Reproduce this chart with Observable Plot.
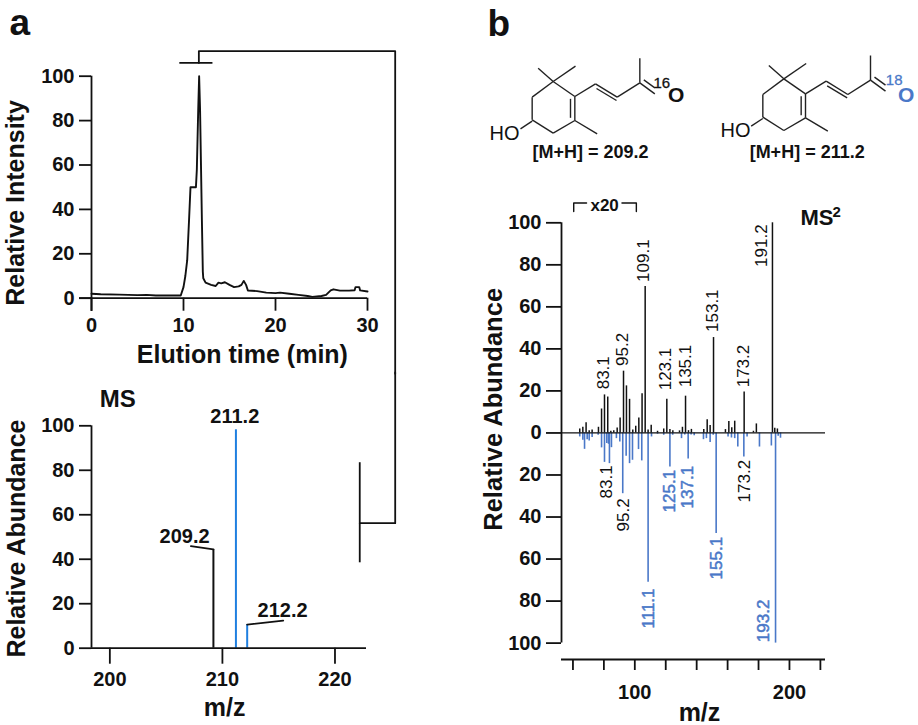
<!DOCTYPE html>
<html><head><meta charset="utf-8">
<script src="https://cdn.jsdelivr.net/npm/d3@7"></script>
<script src="https://cdn.jsdelivr.net/npm/@observablehq/plot@0.6"></script>
<style>
html,body{margin:0;padding:0;background:#fff}
#page{position:relative;width:918px;height:725px;overflow:hidden}
#page svg{position:absolute;background:transparent}
</style></head><body><div id="page"></div>
<script>
// ---------- chromatogram
const lcTime = [0,1,3,5,6,7,9.7,10,10.2,10.4,10.6,10.76,11,11.35,11.45,11.6,11.7,11.8,11.9,12,12.1,12.15,12.4,13,13.5,13.8,14.1,14.5,15,15.5,16,16.3,16.55,16.8,17,18,19,20,20.5,21.5,22.5,23.5,24,25,25.5,26,26.3,27,28,28.6,28.7,29.1,29.2,30];
const lcIntensity = [2,1.8,1.6,1.4,1.5,1.2,1.2,5,10,17,35,50,50,50,58,85,100,85,60,35,12,9,7,6,5.5,7,6.7,7.2,6,5,5.3,6,7.8,6,3.5,3.2,2.5,2.3,2.5,2,1.5,1,0.6,1,1.5,3.5,4,3.4,3.4,3.6,5,5,3.5,3];
// ---------- MS
const msMz = [209.2,211.2,212.2];
const msAbundance = [44.4,98.2,10.6];
const msIsLabelled = [false,true,true];
// ---------- MS2 (positions)
const ms2BlackMz = [64.4,66.4,68.5,70.5,72.4,76.5,78.5,80.4,82.5,84.5,86.4,88.6,90.5,92.7,94.6,96.6,98.7,100.6,102.6,104.7,106.7,108.6,110.6,114.7,118.7,120.7,122.7,124.6,128.9,130.8,132.8,134.7,136.6,144.6,146.8,148.7,150.9,158.6,160.8,162.7,164.6,170.7,176.7,178.6,189,190.5,192.2];
const ms2BlackAb = [1.9,2.7,4.8,1.1,1.4,2.7,11.4,18.1,17.1,0.8,1.1,2.4,7.1,29.4,22.4,16,1.4,3.2,7.1,18.6,69.7,1.4,3.7,0.8,1.9,16,1.6,1,1,2.7,17.5,1.1,1.7,1.7,6.3,3.5,45.4,1.6,5.4,2.5,5.6,19.5,0.8,4.3,100,2.2,1.9];
const ms2BlueMz = [64.4,66.4,67.5,69.2,70.5,72.4,76.3,78.5,80.4,81.9,83,83.6,84.9,88.1,90.3,92.2,94.4,96.6,98.5,102.4,104.5,108.6,110.8,114.7,118.7,122.7,124.5,130.2,132.3,134.5,136.4,138.4,144.4,146.3,148.7,150.7,152.6,160.3,162.5,164.6,166.6,170.5,172.6,180.6,188.3,191,192.7,194.2];
const ms2BlueAb = [1.9,3.5,7.8,3.2,3.8,2.2,1.1,7.1,14,5,5.4,14.6,7,2.7,4.3,28.9,11.1,14.6,13,7.9,13.3,71,1.9,0.6,1.1,16.2,1.1,2.7,1,12.4,1,1.3,3.2,2.7,4.6,1.1,47.9,1.9,2.4,2.7,6.7,11.5,1.9,6.7,6.2,100,1.6,2.5];
const ms2UpLabels = ["83.1","95.2","109.1","123.1","135.1","153.1","173.2","191.2"];
const ms2DownBlackLabels = ["83.1","95.2","173.2"];
const ms2DownBlueLabels = ["111.1","125.1","137.1","155.1","193.2"];
// ---------- tick values
const ticks0to100 = [0,20,40,60,80,100];
const lcTicks = [0,10,20,30];
const msTicks = [200,210,220];
const ms2YTicks = [-100,-80,-60,-40,-20,0,20,40,60,80,100];
const ms2XTicks = [60,80,100,120,140,160,180,200,220];
// ---------- structure (bond skeleton, drawing units)
const bondX1 = [248,185,185,248,313,313,300,248,248,313,313,375,440,378,508,508,520,185];
const bondY1 = [243,290,358,398,360,288,295,243,243,360,288,250,290,264,247,247,238,362];
const bondX2 = [185,185,248,313,313,248,300,203,315,380,375,440,508,438,508,553,553,150];
const bondY2 = [290,358,398,360,288,243,352,203,197,400,250,290,247,300,173,280,262,385];

const SANS = "'Liberation Sans', Arial, sans-serif";
const BLACK = "#111", BLUE_A = "#1f7fe0", BLUE_B = "#4a78c8";
const page = document.getElementById("page");
function place(svg, left, top){ svg.style.left = left+"px"; svg.style.top = top+"px"; page.appendChild(svg); }
const T = (s,x,y,o={}) => Plot.text([s],{x:()=>x,y:()=>y,text:d=>d,fill:BLACK,fontSize:20,fontWeight:"bold",...o});
const style = {fontFamily:SANS,fontSize:"20px",fontWeight:"bold",color:BLACK,background:"transparent",overflow:"visible"};
const LW = 1.8;
const axisStyle = {strokeWidth:LW,stroke:BLACK,fill:BLACK,label:null,fontSize:20,fontWeight:"bold"};

// ---------- panel a, top
place(Plot.plot({
  width:420,height:372,marginLeft:91,marginRight:53,marginTop:75.7,marginBottom:74.3,style,
  x:{domain:[0,30]},y:{domain:[0,100]},
  marks:[
    Plot.axisX(lcTicks,{tickSize:13,tickPadding:7,...axisStyle}),
    Plot.axisY(ticks0to100,{tickSize:12,tickPadding:5,...axisStyle}),
    Plot.ruleY([0],{x1:-1.3,x2:30,stroke:BLACK,strokeWidth:LW}),
    Plot.ruleX([0],{y1:-6,y2:100,stroke:BLACK,strokeWidth:LW}),
    Plot.line(lcTime.map((t,i)=>({t,v:lcIntensity[i]})),{x:"t",y:"v",stroke:BLACK,strokeWidth:1.9,curve:"linear"}),
    // collection bar and connector
    Plot.ruleY([106],{x1:9.6,x2:13.2,stroke:BLACK,strokeWidth:LW}),
    Plot.line([[11.67,106],[11.67,111.3],[33.01,111.3],[33.01,-34]],{stroke:BLACK,strokeWidth:LW}),
    T("Relative Intensity",-8.2,42.9,{rotate:-90,fontSize:25}),
    T("Elution time (min)",16.4,-25.4,{fontSize:25}),
    T("a",-7.8,123.7,{fontSize:37})
  ]
}),0,0);

// ---------- panel a, bottom
const msRows = msMz.map((m,i)=>({m,a:msAbundance[i],blue:msIsLabelled[i]}));
place(Plot.plot({
  width:420,height:353,marginLeft:91,marginRight:54,marginTop:53.3,marginBottom:77.3,style,
  x:{domain:[198.37,222.8]},y:{domain:[0,100]},
  marks:[
    Plot.axisX(msTicks,{tickSize:16,tickPadding:8,...axisStyle}),
    Plot.axisY(ticks0to100,{tickSize:12,tickPadding:5,...axisStyle}),
    Plot.ruleX([198.37],{y1:0,y2:100,stroke:BLACK,strokeWidth:LW}),
    Plot.ruleX(msRows,{x:"m",y1:0,y2:"a",stroke:d=>d.blue?BLUE_A:BLACK,strokeWidth:2}),
    Plot.ruleY([0],{x1:198.37,x2:222.8,stroke:BLACK,strokeWidth:LW}),
    Plot.line([[209.2,44.4],[207.2,45.9]],{stroke:BLACK,strokeWidth:LW}),
    Plot.line([[212.2,10.6],[215.4,12.4]],{stroke:BLACK,strokeWidth:LW}),
    T("211.2",211.1,104),
    T("209.2",206.64,50.4),
    T("212.2",215.35,16.7),
    T("MS",200.7,111.7,{fontSize:24}),
    T("m/z",210.2,-27.1,{fontSize:25}),
    T("Relative Abundance",191.75,49.3,{rotate:-90,fontSize:25}),
    // connector from the collection bar to the selected precursor window
    Plot.line([[225.35,124],[225.35,56.2],[222.2,56.2]],{stroke:BLACK,strokeWidth:LW}),
    Plot.ruleX([222.2],{y1:38.4,y2:83.4,stroke:BLACK,strokeWidth:LW})
  ]
}),0,372);

// ---------- panel b, structures
const bonds = bondX1.map((x1,i)=>({x1,y1:bondY1[i],x2:bondX2[i],y2:bondY2[i]}));
const shifted = (dx,dy)=>bonds.map(b=>({x1:b.x1+dx,x2:b.x2+dx,y1:b.y1+dy,y2:b.y2+dy}));
place(Plot.plot({
  width:448,height:190,margin:0,style,
  x:{domain:[0,1344],axis:null},y:{domain:[570,0],axis:null},
  marks:[
    Plot.link(bonds,{x1:"x1",y1:"y1",x2:"x2",y2:"y2",stroke:"#222",strokeWidth:1.4}),
    Plot.link(shifted(692,-8),{x1:"x1",y1:"y1",x2:"x2",y2:"y2",stroke:"#222",strokeWidth:1.4}),
    T("b",85,72,{fontSize:37}),
    T("HO",102,398,{fontSize:20,fontWeight:"normal"}),
    T("HO",795,389,{fontSize:20,fontWeight:"normal"}),
    T("16",574,248,{fontSize:15,fontWeight:"normal",stroke:BLACK,strokeWidth:0.3}),
    T("O",617,284,{fontSize:21}),
    T("18",1271,239,{fontSize:15,fontWeight:"normal",fill:BLUE_B,stroke:BLUE_B,strokeWidth:0.3}),
    T("O",1307,284,{fontSize:21,fill:BLUE_B}),
    T("[M+H] = 209.2",360,455,{fontSize:18}),
    T("[M+H] = 211.2",1010,455,{fontSize:18})
  ]
}),470,0);

// ---------- panel b, MS2 mirror
const toXv = px => 100+(px-634.3)/1.547, toYv = py => (432.6-py)/2.1;
const rowsOf = (ms,ab,sign)=>ms.map((m,i)=>({m,a:sign*ab[i]}));
const upPos = [[603.3,389],[621.7,365.7],[643,281.7],[665,390],[685,387],[711.7,331.7],[743,387],[760.7,266.7]];
const downBlackPos = [[605.7,498],[622.7,531],[744,502]];
const downBluePos = [[647.7,628],[669,512],[686.7,508],[715.7,579],[763,641.7]];
const labelRows = (names,pos)=>names.map((s,i)=>({s,x:toXv(pos[i][0]),y:toYv(pos[i][1])}));
const lab = (names,pos,fill,sw)=>Plot.text(labelRows(names,pos),{x:"x",y:"y",text:"s",rotate:-90,textAnchor:"start",fontSize:17,fontWeight:"normal",fill,stroke:fill,strokeWidth:sw});
place(Plot.plot({
  width:448,height:535,marginLeft:91,marginRight:93,marginTop:32.3,marginBottom:66,style,
  x:{domain:[52.6,223.3]},y:{domain:[-107.8,100]},
  marks:[
    Plot.axisY(ms2YTicks,{tickFormat:Math.abs,tickSize:15,tickPadding:5,...axisStyle}),
    Plot.axisX(ms2XTicks,{tickFormat:d=>d%100===0?d:"",tickSize:11,tickPadding:14,...axisStyle}),
    Plot.ruleX([52.6],{y1:-100,y2:100,stroke:BLACK,strokeWidth:LW}),
    Plot.ruleY([-107.8],{x1:52.6,x2:223.3,stroke:BLACK,strokeWidth:LW}),
    Plot.ruleX(rowsOf(ms2BlueMz,ms2BlueAb,-1),{x:"m",y1:0,y2:"a",stroke:BLUE_B,strokeWidth:1.6}),
    Plot.ruleX(rowsOf(ms2BlackMz,ms2BlackAb,1),{x:"m",y1:0,y2:"a",stroke:BLACK,strokeWidth:1.5}),
    Plot.ruleY([0],{x1:52.6,x2:223.3,stroke:BLACK,strokeWidth:1.3}),
    lab(ms2UpLabels,upPos,BLACK,0),
    lab(ms2DownBlackLabels,downBlackPos,BLACK,0),
    lab(ms2DownBlueLabels,downBluePos,BLUE_B,0.5),
    // x20 bracket
    Plot.line([[60.5,105.4],[60.5,109.4],[68.8,109.4]],{stroke:BLACK,strokeWidth:1.4}),
    Plot.line([[91.7,109.4],[101,109.4],[101,105.4]],{stroke:BLACK,strokeWidth:1.4}),
    T("x20",80.5,108.4,{fontSize:17}),
    T("MS",toXv(800),toYv(218),{fontSize:22,textAnchor:"start"}),
    T("2",toXv(832),toYv(212),{fontSize:15,textAnchor:"start"}),
    T("m/z",toXv(699),toYv(712),{fontSize:25}),
    T("Relative Abundance",toXv(493),toYv(409),{rotate:-90,fontSize:25.5})
  ]
}),470,190);
</script></body></html>
